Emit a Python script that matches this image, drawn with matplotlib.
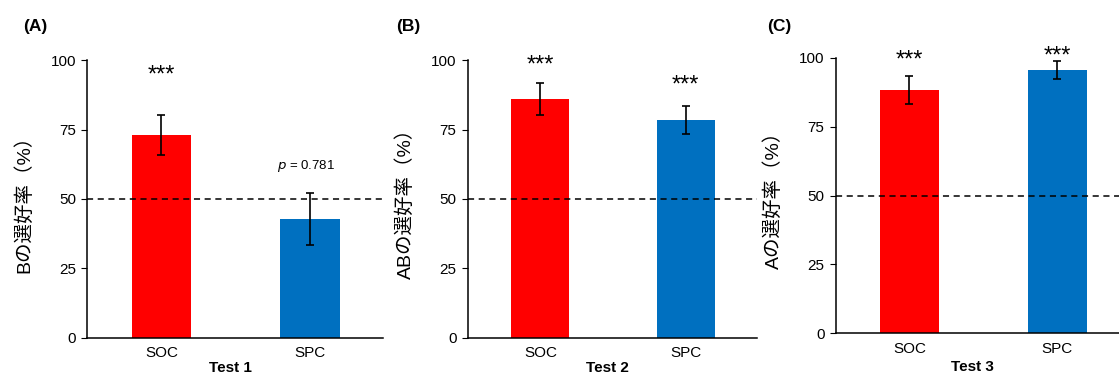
import numpy as np
import matplotlib.pyplot as plt

plt.rcParams['font.family'] = ['Liberation Sans', 'Noto Sans CJK JP']

groups = ['SOC', 'SPC']
colors = ['#FF0000', '#0070C0']

panels = ['(A)', '(B)', '(C)']
tests = ['Test 1', 'Test 2', 'Test 3']
ylabels = ['Bの選好率（%）', 'ABの選好率（%）', 'Aの選好率（%）']
means_a = [73.0, 42.8]
err_a = [7.2, 9.4]
means_b = [86.0, 78.5]
err_b = [5.7, 5.0]
means_c = [88.3, 95.5]
err_c = [5.0, 3.3]
marks_a = ['***', None]
marks_b = ['***', '***']
marks_c = ['***', '***']
p_text = '$\\it{p}$ = 0.781'

W, H = 1119, 376
fig = plt.figure(figsize=(W / 100, H / 100), dpi=100)

# axes boxes in pixels: left, right, top, bottom
boxes = [(87, 383, 60.3, 337.7), (467.7, 757, 60.3, 337.7), (835.7, 1119, 57.7, 333.3)]
xlims = [(-0.5, 1.49), (-0.5, 1.49), (-0.5, 1.42)]
means = [means_a, means_b, means_c]
errs = [err_a, err_b, err_c]
marks = [marks_a, marks_b, marks_c]
star_y = [[94.5, None], [98.0, 91.0], [99.0, 100.5]]
panel_x = [23, 396, 767]
test_y = [368, 368, 367]

x = np.arange(len(groups))
for i in range(3):
    l, r, t, b = boxes[i]
    ax = fig.add_axes([l / W, (H - b) / H, (r - l) / W, (b - t) / H])
    ax.bar(x, means[i], width=0.4, color=colors)
    ax.errorbar(x, means[i], yerr=errs[i], fmt='none', ecolor='black',
                elinewidth=1.2, capsize=3, capthick=1.2)
    ax.axhline(50, color='black', ls=(0, (4, 3)), lw=1.1)
    ax.set_xlim(*xlims[i])
    ax.set_ylim(0, 100)
    ax.set_yticks([0, 25, 50, 75, 100])
    ax.set_xticks(x)
    ax.set_xticklabels(groups)
    ax.tick_params(axis='x', length=0, labelsize=11, pad=6)
    ax.tick_params(axis='y', length=4, labelsize=11, pad=4)
    for s in ['top', 'right']:
        ax.spines[s].set_visible(False)
    for s in ['left', 'bottom']:
        ax.spines[s].set_linewidth(1.1)
    ax.set_ylabel(ylabels[i], fontsize=14, labelpad=12)
    for j in range(2):
        if marks[i][j]:
            ax.text(x[j], star_y[i][j], marks[i][j], ha='center', va='center',
                    fontsize=17, clip_on=False)
    fig.text((l + r) / 2 / W - 0.004, (H - test_y[i]) / H, tests[i], ha='center',
             va='center', fontsize=11, fontweight='bold')
    fig.text(panel_x[i] / W, (H - 27) / H, panels[i], ha='left', va='center',
             fontsize=12.5, fontweight='bold')
    if i == 0:
        ax.text(x[1] - 0.03, 62, p_text, ha='center', va='center', fontsize=9.5)

fig.savefig('out.png', dpi=100)
